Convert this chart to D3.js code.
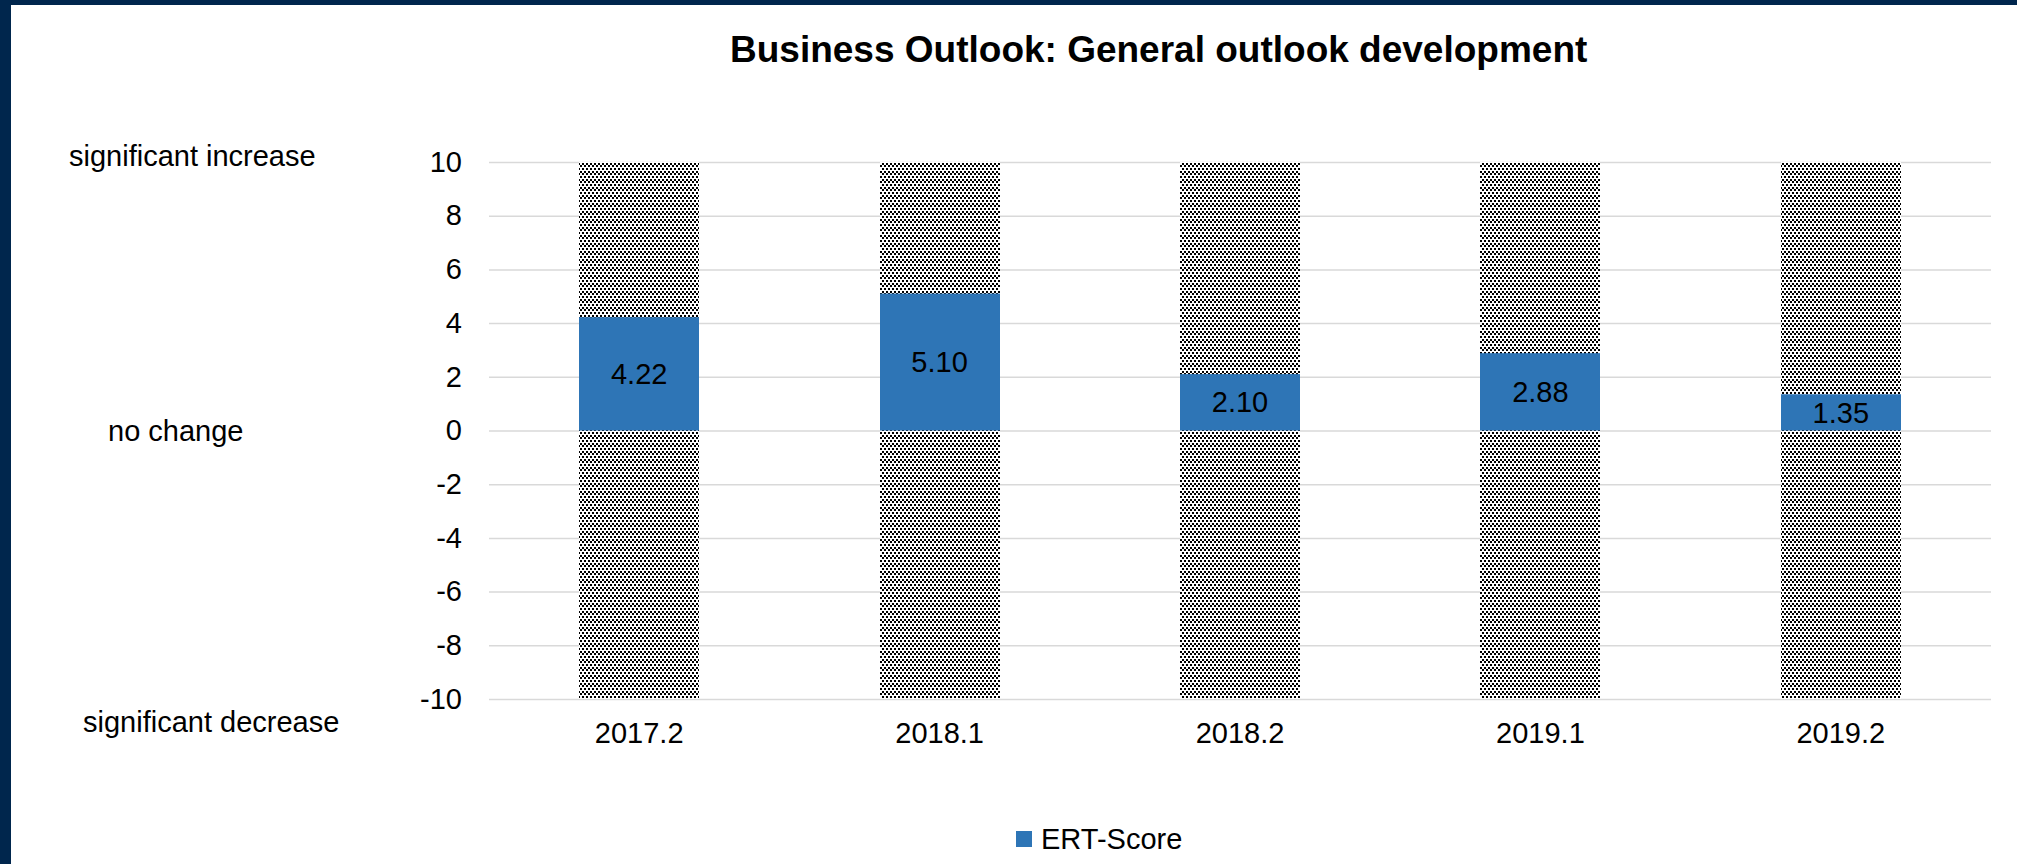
<!DOCTYPE html>
<html>
<head>
<meta charset="utf-8">
<script src="https://cdn.jsdelivr.net/npm/d3@7"></script>
<style>
  html, body { margin: 0; padding: 0; background: #fff; }
  svg { display: block; font-family: "Liberation Sans", Arial, sans-serif; }
</style>
</head>
<body>
<svg id="chart" width="2017" height="864"></svg>
<script>
// Survey periods and ERT scores
const periods = ["2017.2", "2018.1", "2018.2", "2019.1", "2019.2"];
const ertScores = [4.22, 5.10, 2.10, 2.88, 1.35];
const scaleRange = [-10, 10];
const yTicks = [-10, -8, -6, -4, -2, 0, 2, 4, 6, 8, 10];
const scaleNotes = [
  { text: "significant increase", x: 69, y: 166 },
  { text: "no change", x: 108, y: 441 },
  { text: "significant decrease", x: 83, y: 732 }
];
const seriesName = "ERT-Score";
const titleText = "Business Outlook: General outlook development";

const W = 2017, H = 864;
const plot = { left: 489, right: 1991, top: 162, bottom: 699 };
const blue = "#2E75B6";
const navy = "#00264D";

const svg = d3.select("#chart");

// frame bands
svg.append("rect").attr("x", 0).attr("y", 0).attr("width", W).attr("height", 5).attr("fill", navy);
svg.append("rect").attr("x", 0).attr("y", 0).attr("width", 11).attr("height", H).attr("fill", navy);

// dotted fill for the full-range columns: staggered 2px dots
const defs = svg.append("defs");
const pat = defs.append("pattern")
  .attr("id", "dots")
  .attr("patternUnits", "userSpaceOnUse")
  .attr("width", 4).attr("height", 16);
pat.append("rect").attr("width", 4).attr("height", 16).attr("fill", "#fff");
[[0, 0], [2, 3], [0, 5], [2, 8], [0, 11], [2, 13]].forEach(([dx, dy]) => {
  pat.append("rect")
    .attr("x", dx).attr("y", dy)
    .attr("width", 2).attr("height", 2)
    .attr("fill", "#000")
    .attr("shape-rendering", "crispEdges");
});

const x = d3.scaleBand()
  .domain(periods)
  .range([plot.left, plot.right])
  .paddingInner(0.6)
  .paddingOuter(0.3);

const y = d3.scaleLinear()
  .domain(scaleRange)
  .range([plot.bottom, plot.top]);

// y axis with gridlines
const yAxis = svg.append("g")
  .attr("transform", `translate(${plot.left},0)`)
  .call(d3.axisLeft(y)
    .tickValues(yTicks)
    .tickFormat(d => String(d))
    .tickSizeInner(-(plot.right - plot.left))
    .tickSizeOuter(0)
    .tickPadding(27));
yAxis.select(".domain").remove();
yAxis.selectAll(".tick line").attr("stroke", "#d9d9d9").attr("stroke-width", 1.5);
yAxis.selectAll(".tick text")
  .attr("font-size", 29)
  .attr("fill", "#000")
  .attr("font-family", "Liberation Sans, Arial, sans-serif");

// full-range dotted columns
svg.append("g").selectAll("rect")
  .data(periods)
  .join("rect")
  .attr("x", d => Math.round(x(d)))
  .attr("width", Math.round(x.bandwidth()))
  .attr("y", y(scaleRange[1]))
  .attr("height", y(scaleRange[0]) - y(scaleRange[1]))
  .attr("fill", "url(#dots)");

// score bars
const data = periods.map((p, i) => ({ period: p, value: ertScores[i] }));
svg.append("g").selectAll("rect")
  .data(data)
  .join("rect")
  .attr("x", d => Math.round(x(d.period)))
  .attr("width", Math.round(x.bandwidth()))
  .attr("y", d => y(Math.max(0, d.value)))
  .attr("height", d => Math.abs(y(d.value) - y(0)))
  .attr("fill", blue);

// value labels
svg.append("g").selectAll("text")
  .data(data)
  .join("text")
  .attr("x", d => x(d.period) + x.bandwidth() / 2)
  .attr("y", d => (y(d.value) + y(0)) / 2)
  .attr("dy", "0.35em")
  .attr("text-anchor", "middle")
  .attr("font-size", 29)
  .attr("fill", "#000")
  .text(d => d3.format(".2f")(d.value));

// category axis
const xAxis = svg.append("g")
  .attr("transform", `translate(0,${plot.bottom})`)
  .call(d3.axisBottom(x).tickSize(0).tickPadding(23.5));
xAxis.select(".domain").remove();
xAxis.selectAll(".tick text")
  .attr("font-size", 29)
  .attr("fill", "#000")
  .attr("font-family", "Liberation Sans, Arial, sans-serif");

// scale notes on the left
svg.append("g").selectAll("text")
  .data(scaleNotes)
  .join("text")
  .attr("x", d => d.x)
  .attr("y", d => d.y)
  .attr("font-size", 29)
  .attr("fill", "#000")
  .text(d => d.text);

// title
svg.append("text")
  .attr("x", 730)
  .attr("y", 62)
  .attr("font-size", 37)
  .attr("font-weight", "bold")
  .attr("fill", "#000")
  .text(titleText);

// legend
const legend = svg.append("g").attr("transform", "translate(1016,831)");
legend.append("rect").attr("width", 16).attr("height", 16).attr("fill", blue);
legend.append("text")
  .attr("x", 25)
  .attr("y", 18)
  .attr("font-size", 29)
  .attr("fill", "#000")
  .text(seriesName);
</script>
</body>
</html>
